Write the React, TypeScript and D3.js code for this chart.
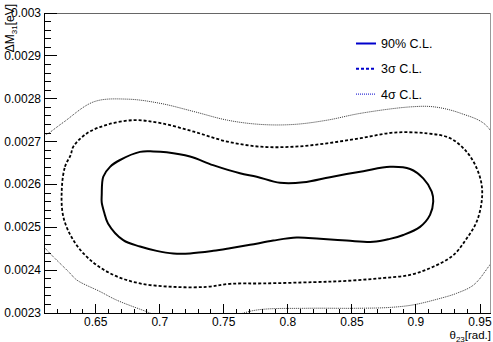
import React from "react";
import * as d3 from "d3";

// ---- data (theta23 [rad], dM31 [eV]) ----
const cl90: [number, number][] = [
  [0.6547, 0.002575], [0.6559, 0.002618], [0.6612, 0.002641], [0.669, 0.002657],
  [0.6846, 0.002676], [0.695, 0.002677], [0.7054, 0.002675], [0.7236, 0.002665],
  [0.7416, 0.002645], [0.7626, 0.002626], [0.7757, 0.002618], [0.7939, 0.002604],
  [0.8121, 0.002605], [0.8329, 0.002617], [0.8589, 0.002631], [0.8797, 0.002641],
  [0.8954, 0.002636], [0.9057, 0.002614], [0.9123, 0.002583], [0.9135, 0.00256],
  [0.911, 0.002529], [0.9032, 0.002501], [0.8901, 0.002482], [0.8797, 0.002473],
  [0.8667, 0.002466], [0.8459, 0.002469], [0.8251, 0.002473], [0.8069, 0.002476],
  [0.7886, 0.002469], [0.7705, 0.002459], [0.7548, 0.002451], [0.7418, 0.002445],
  [0.7236, 0.002439], [0.7106, 0.002439], [0.6976, 0.002445], [0.6846, 0.002455],
  [0.6715, 0.00247], [0.6596, 0.002509], [0.6566, 0.002535], [0.6547, 0.002558],
];

const cl3s: [number, number][] = [
  [0.6235, 0.002587], [0.626, 0.002641], [0.6305, 0.002669], [0.6325, 0.002688],
  [0.643, 0.002719], [0.6586, 0.002739], [0.6799, 0.00275], [0.7007, 0.002743],
  [0.7267, 0.002723], [0.7527, 0.0027], [0.7788, 0.002688], [0.8048, 0.002688],
  [0.8308, 0.002696], [0.8569, 0.002708], [0.8829, 0.002721], [0.9089, 0.002719],
  [0.9266, 0.002708], [0.9396, 0.002676], [0.9474, 0.002638], [0.9513, 0.002599],
  [0.9513, 0.00256], [0.9474, 0.002513], [0.9396, 0.002474], [0.9292, 0.002435],
  [0.9135, 0.002408], [0.8954, 0.002389], [0.8719, 0.002381], [0.8459, 0.002375],
  [0.8199, 0.002372], [0.7808, 0.002369], [0.7548, 0.002368], [0.7367, 0.002361],
  [0.7106, 0.002361], [0.6846, 0.002369], [0.6637, 0.002389], [0.6456, 0.002424],
  [0.6325, 0.00247], [0.6247, 0.002525],
];

const cl4s: [number, number][] = [
  [0.5987, 0.002587], [0.6065, 0.002704], [0.6149, 0.002723], [0.6253, 0.002746],
  [0.6487, 0.002793], [0.6747, 0.002799], [0.7007, 0.002789], [0.7267, 0.00277],
  [0.7527, 0.00275], [0.7788, 0.00274], [0.8048, 0.00274], [0.8308, 0.00275],
  [0.8569, 0.002766], [0.8959, 0.002781], [0.9141, 0.002781], [0.9349, 0.002766],
  [0.9557, 0.002735], [0.9695, 0.002633], [0.9705, 0.00248], [0.9547, 0.0024],
  [0.9448, 0.002365], [0.9318, 0.002346], [0.9188, 0.002334], [0.8979, 0.002319],
  [0.8797, 0.002313], [0.8537, 0.002311], [0.8147, 0.002311], [0.7757, 0.002307],
  [0.7509, 0.002288], [0.7236, 0.002281], [0.7002, 0.002291], [0.6898, 0.002303],
  [0.6664, 0.00233], [0.6534, 0.00235], [0.6352, 0.002377], [0.6299, 0.002393],
  [0.6143, 0.002439], [0.6096, 0.002454], [0.6026, 0.002475],
];

const xMajor = [0.65, 0.7, 0.75, 0.8, 0.85, 0.9, 0.95];
const xLabels = ["0.65", "0.7", "0.75", "0.8", "0.85", "0.9", "0.95"];
const yMajor = [0.0023, 0.0024, 0.0025, 0.0026, 0.0027, 0.0028, 0.0029, 0.003];
const yLabels = ["0.0023", "0.0024", "0.0025", "0.0026", "0.0027", "0.0028", "0.0029", "0.003"];
const legendLabels = ["90% C.L.", "3\u03c3 C.L.", "4\u03c3 C.L."];

const W = 493;
const H = 342;
const FONT = "'Liberation Sans', Arial, Helvetica, sans-serif";

export default function App() {
  const x = d3.scaleLinear().domain([0.65, 0.95]).range([95.7, 480]);
  const y = d3.scaleLinear().domain([0.0023, 0.003]).range([313, 13]);
  const X0 = 44, X1 = 491, Y0 = 313, Y1 = 13;

  const line = d3
    .line<[number, number]>()
    .x((d) => x(d[0]))
    .y((d) => y(d[1]))
    .curve(d3.curveCatmullRomClosed.alpha(0.5));

  const xMinor: number[] = [];
  for (let i = 61; i <= 96; i++) {
    const v = i / 100;
    const px = x(v);
    if (px >= X0 && px <= X1 && i % 5 !== 0) xMinor.push(v);
  }
  const yMinor: number[] = [];
  for (let i = 0; i <= 35; i++) {
    if (i % 5 === 0) continue;
    yMinor.push(0.0023 + i * 0.00002);
  }

  const styles = [
    { dash: undefined, w: 2, c: "#000" },
    { dash: "3,2", w: 1.8, c: "#000" },
    { dash: "1,1", w: 1, c: "#333" },
  ];
  const legStyles = [
    { dash: undefined, w: 2 },
    { dash: "3,2", w: 2 },
    { dash: "1,1", w: 1 },
  ];

  return (
    <svg
      width={W}
      height={H}
      style={{ position: "absolute", left: 0, top: 0, background: "#fff" }}
      fontFamily={FONT}
    >
      <defs>
        <clipPath id="frame">
          <rect x={X0} y={Y1} width={X1 - X0} height={Y0 - Y1} />
        </clipPath>
      </defs>
      <rect x={0} y={0} width={W} height={H} fill="#fff" />

      {/* contours */}
      <g clipPath="url(#frame)" fill="none">
        <path d={line(cl4s) || ""} stroke={styles[2].c} strokeWidth={styles[2].w} strokeDasharray={styles[2].dash} />
        <path d={line(cl3s) || ""} stroke={styles[1].c} strokeWidth={styles[1].w} strokeDasharray={styles[1].dash} />
        <path d={line(cl90) || ""} stroke={styles[0].c} strokeWidth={styles[0].w} />
      </g>

      {/* frame */}
      <g shapeRendering="crispEdges" stroke="#000" strokeWidth={1}>
        <line x1={X0} x2={X1} y1={Y1 + 0.5} y2={Y1 + 0.5} stroke="#666" />
        <line x1={X1 - 0.5} x2={X1 - 0.5} y1={Y1} y2={Y0} stroke="#999" />
        <line x1={X0 + 0.5} x2={X0 + 0.5} y1={Y1} y2={Y0} />
        <line x1={X0} x2={X1} y1={Y0 + 0.5} y2={Y0 + 0.5} />
        {xMajor.map((v) => (
          <line key={"xM" + v} x1={x(v)} x2={x(v)} y1={Y0} y2={Y0 - 9} />
        ))}
        {xMinor.map((v) => (
          <line key={"xm" + v} x1={x(v)} x2={x(v)} y1={Y0} y2={Y0 - 4.5} />
        ))}
        {yMajor.map((v) => (
          <line key={"yM" + v} x1={X0} x2={X0 + 13} y1={y(v)} y2={y(v)} />
        ))}
        {yMinor.map((v) => (
          <line key={"ym" + v} x1={X0} x2={X0 + 7} y1={y(v)} y2={y(v)} />
        ))}
      </g>

      {/* tick labels */}
      <g fontSize={12} fill="#000">
        {xMajor.map((v, i) => (
          <text key={"xl" + v} x={x(v)} y={326} textAnchor="middle">
            {xLabels[i]}
          </text>
        ))}
        {yMajor.map((v, i) => (
          <text key={"yl" + v} x={41} y={y(v) + 4} textAnchor="end">
            {yLabels[i]}
          </text>
        ))}
      </g>

      {/* axis titles */}
      <text x={491} y={339} textAnchor="end" fontSize={11.5}>
        {"\u03b8"}
        <tspan fontSize={8} dy={2.5}>23</tspan>
        <tspan dy={-2.5}>[rad.]</tspan>
      </text>
      <text transform="translate(14,4) rotate(-90)" textAnchor="end" fontSize={12}>
        {"\u0394M"}
        <tspan fontSize={8} dy={3}>31</tspan>
        <tspan dy={-3}>[eV]</tspan>
      </text>

      {/* legend */}
      <g>
        {legendLabels.map((lab, i) => {
          const ly = 43.5 + i * 25.3;
          return (
            <g key={lab}>
              <line
                x1={356}
                x2={376}
                y1={ly}
                y2={ly}
                stroke="#0000cc"
                strokeWidth={legStyles[i].w}
                strokeDasharray={legStyles[i].dash}
              />
              <text x={381} y={ly + 4.5} fontSize={12.5}>
                {lab}
              </text>
            </g>
          );
        })}
      </g>
    </svg>
  );
}
